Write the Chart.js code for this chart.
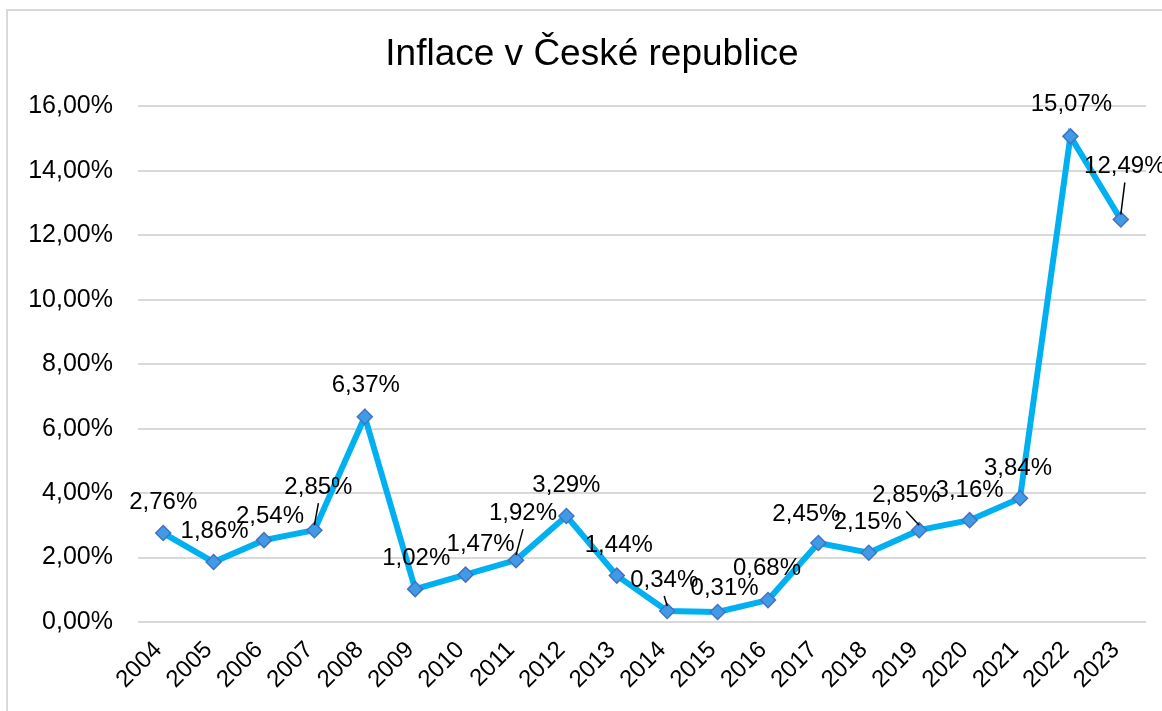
<!DOCTYPE html>
<html>
<head>
<meta charset="utf-8">
<script src="https://cdn.jsdelivr.net/npm/chart.js@4"></script>
<style>
    html, body { margin: 0; padding: 0; background: #fff; }
    #main { position: relative; width: 1162px; height: 711px; overflow: hidden; }
    #frame { position: absolute; left: 6px; top: 9px; width: 1170px; height: 720px; border: 2px solid #d9d9d9; box-sizing: border-box; }
    #activityChart { position: absolute; left: 0; top: 0; }
</style>
</head>
<body>
<div id="main">
    <div id="frame"></div>
    <canvas id="activityChart" width="1184" height="711"></canvas>
</div>
<script>
const years = ['2004', '2005', '2006', '2007', '2008', '2009', '2010', '2011', '2012', '2013',
    '2014', '2015', '2016', '2017', '2018', '2019', '2020', '2021', '2022', '2023'];
const inflation = [2.76, 1.86, 2.54, 2.85, 6.37, 1.02, 1.47, 1.92, 3.29, 1.44,
    0.34, 0.31, 0.68, 2.45, 2.15, 2.85, 3.16, 3.84, 15.07, 12.49];
const yTicks = [0, 2, 4, 6, 8, 10, 12, 14, 16];

// where Excel put each data label, relative to its point
const labelNudge = [
    [0, -31], [1, -31], [6, -24], [4, -43], [1, -31], [1, -31], [15, -30], [7, -47], [0, -31], [2, -30],
    [-3, -31], [7, -24], [-1, -32], [-12, -29], [-1, -30], [-13, -35], [0, -30], [-2, -30], [1, -32], [4, -53],
];
const leaders = [3, 7, 10, 15, 19];

const fmt = (v) => v.toFixed(2).replace('.', ',') + '%';
const fontFamily = '"Liberation Sans", Arial, Helvetica, sans-serif';

const dataLabels = {
    id: 'dataLabels',
    afterDatasetsDraw(chart) {
        const c = chart.ctx;
        const meta = chart.getDatasetMeta(0);
        c.save();
        c.font = `24px ${fontFamily}`;
        c.fillStyle = '#000';
        c.strokeStyle = '#000';
        c.lineWidth = 1.5;
        c.textAlign = 'center';
        c.textBaseline = 'middle';
        meta.data.forEach((p, i) => {
            const lx = p.x + labelNudge[i][0];
            const ly = p.y + labelNudge[i][1];
            c.fillText(fmt(inflation[i]), lx, ly);
            if (leaders.includes(i)) {
                c.beginPath();
                c.moveTo(lx, ly + 16);
                c.lineTo(p.x, p.y - 5);
                c.stroke();
            }
        });
        c.restore();
    },
};

const ctx = document.getElementById('activityChart');

new Chart(ctx, {
    type: 'line',
    data: {
        labels: years,
        datasets: [
            {
                label: 'Inflace',
                data: inflation,
                borderColor: '#00B0F0',
                borderWidth: 6,
                pointStyle: 'rectRot',
                pointRadius: 7.5,
                pointBackgroundColor: '#3F9BE6',
                pointBorderColor: '#4472C4',
                pointBorderWidth: 1.5,
                tension: 0,
            },
        ],
    },
    options: {
        responsive: false,
        animation: false,
        layout: {
            padding: 0,
        },
        scales: {
            x: {
                offset: true,
                grid: { display: false },
                border: { display: false },
                ticks: {
                    minRotation: 45,
                    maxRotation: 45,
                    padding: 6,
                    labelOffset: -5,
                    color: '#000',
                    font: { family: fontFamily, size: 24 },
                },
                afterFit(scale) {
                    scale.height = 89;
                },
            },
            y: {
                min: 0,
                max: 16,
                afterBuildTicks(scale) {
                    scale.ticks = yTicks.map((v) => ({ value: v }));
                },
                grid: { color: '#d9d9d9', lineWidth: 2, drawTicks: false },
                border: { display: false },
                ticks: {
                    padding: 25,
                    color: '#000',
                    font: { family: fontFamily, size: 25 },
                    callback: (v) => fmt(v),
                },
                afterFit(scale) {
                    scale.width = 138;
                },
            },
            // empty right margin so the title centres like the original
            spacer: {
                position: 'right',
                grid: { display: false },
                border: { display: false },
                ticks: { display: false },
                afterFit(scale) {
                    scale.width = 38;
                },
            },
        },
        plugins: {
            legend: { display: false },
            tooltip: { enabled: false },
            title: {
                display: true,
                text: 'Inflace v České republice',
                color: '#000',
                font: { family: fontFamily, size: 37, weight: 'normal' },
                padding: { top: 33, bottom: 29 },
            },
        },
    },
    plugins: [dataLabels],
});
</script>
</body>
</html>
